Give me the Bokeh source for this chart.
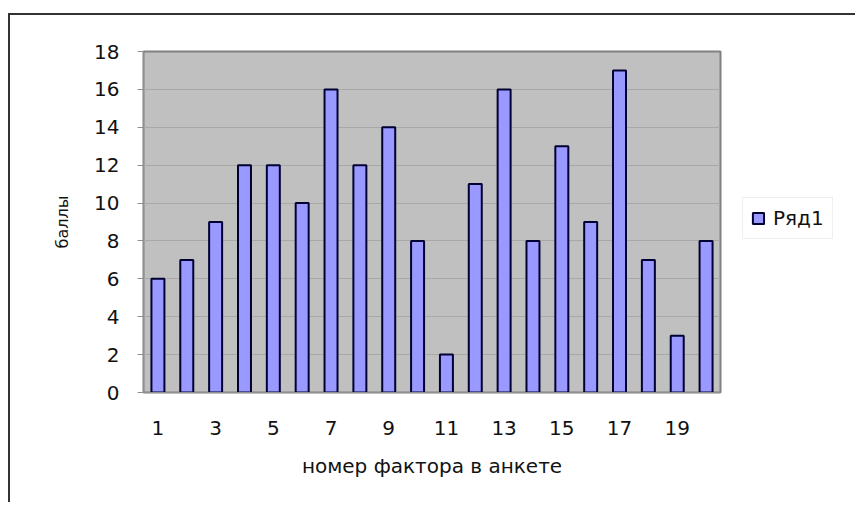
from bokeh.plotting import figure
from bokeh.models import FixedTicker, Legend, LegendItem, ColumnDataSource
from bokeh.embed import file_html
from bokeh.resources import INLINE

factors = list(range(1, 21))
scores = [6, 7, 9, 12, 12, 10, 16, 12, 14, 8, 2, 11, 16, 8, 13, 9, 17, 7, 3, 8]
x_tick_labels = [1, 3, 5, 7, 9, 11, 13, 15, 17, 19]
y_ticks = [0, 2, 4, 6, 8, 10, 12, 14, 16, 18]
series_name = "Ряд1"
x_title = "номер фактора в анкете"
y_title = "баллы"

FONT = "DejaVu Sans"

src = ColumnDataSource(dict(x=factors, top=scores))

p = figure(frame_width=577, frame_height=341, output_backend="svg", toolbar_location=None,
           x_range=(0.5, 20.5), y_range=(0, 18),
           min_border_left=133, min_border_right=124, min_border_top=36, min_border_bottom=110)
p.styles = {"border-left": "2px solid #333333", "border-top": "2px solid #333333",
            "margin-top": "13px", "margin-left": "8px"}

p.background_fill_color = "#C0C0C0"
p.border_fill_color = "white"
p.outline_line_color = "#808080"
p.outline_line_width = 2

r = p.vbar(x="x", top="top", width=0.45, bottom=0, source=src,
           fill_color="#9999FF", line_color="#000033", line_width=2)

p.xgrid.grid_line_color = None
p.ygrid.grid_line_color = "#A8A8A8"
p.ygrid.grid_line_width = 1
p.ygrid.ticker = FixedTicker(ticks=y_ticks)

p.yaxis.ticker = FixedTicker(ticks=y_ticks)
p.xaxis.ticker = FixedTicker(ticks=x_tick_labels)
for ax in (p.xaxis[0], p.yaxis[0]):
    ax.axis_line_color = "#909090"
    ax.major_tick_line_color = "#909090"
    ax.minor_tick_line_color = None
    ax.major_tick_out = 6
    ax.major_tick_in = 0
    ax.major_label_text_font = FONT
    ax.major_label_text_font_size = "20px"
    ax.major_label_text_color = "#111111"
    ax.axis_label_text_font = FONT
    ax.axis_label_text_font_style = "normal"
    ax.axis_label_text_color = "#111111"
p.xaxis.major_tick_line_color = None
p.xaxis.major_label_standoff = 22
p.yaxis.major_label_standoff = 18
p.xaxis.axis_label = x_title
p.xaxis.axis_label_text_font_size = "20px"
p.xaxis.axis_label_standoff = 16
p.yaxis.axis_label = y_title
p.yaxis.axis_label_text_font_size = "16px"
p.yaxis.axis_label_standoff = 19

legend = Legend(items=[LegendItem(label=series_name, renderers=[r])],
                location=(22, 153), label_text_font=FONT, label_text_font_size="20px",
                label_text_color="#111111", glyph_width=14, glyph_height=14,
                border_line_color="#E0E0E0", padding=8, margin=0, spacing=0,
                label_standoff=8, background_fill_alpha=1)
p.add_layout(legend, "right")

open("out.html", "w").write(file_html(p, INLINE))
